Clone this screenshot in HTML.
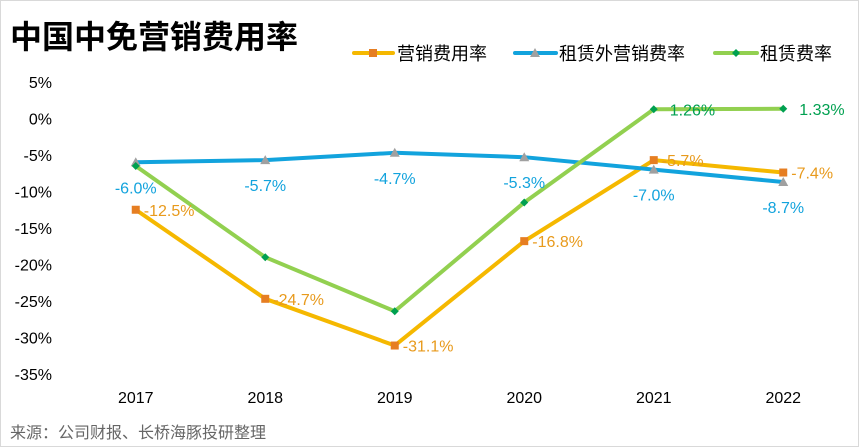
<!DOCTYPE html>
<html><head><meta charset="utf-8"><style>
body{margin:0;background:#fff}
svg{display:block;font-family:"Liberation Sans","Noto Sans CJK SC",sans-serif}
</style></head><body>
<svg id="c" width="859" height="447" viewBox="0 0 859 447">
<rect x="0.5" y="0.5" width="858" height="446" fill="#fff" stroke="#d9d9d9"/>
<text x="10" y="48" font-size="32" font-weight="bold" fill="#000">中国中免营销费用率</text>
<g>
<g><line x1="354" y1="53" x2="393" y2="53" stroke="#F5B800" stroke-width="4" stroke-linecap="round"/><rect x="369" y="49" width="8" height="8" fill="#E67E22"/><text x="397" y="60" font-size="18" fill="#000">营销费用率</text></g>
<g><line x1="515" y1="53" x2="556" y2="53" stroke="#12A3DD" stroke-width="4" stroke-linecap="round"/><polygon points="535,48 540,57 530,57" fill="#A0A0A0"/><text x="559" y="60" font-size="18" fill="#000">租赁外营销费率</text></g>
<g><line x1="715" y1="53" x2="757" y2="53" stroke="#92D050" stroke-width="4" stroke-linecap="round"/><polygon points="736,49 740,53 736,57 732,53" fill="#00A050"/><text x="760" y="60" font-size="18" fill="#000">租赁费率</text></g>
</g>
<g id="axes"></g>
<g id="series"></g>
<text x="10" y="438" font-size="16" fill="#666">来源：公司财报、长桥海豚投研整理</text>
</svg>
<script>
const categories=["2017","2018","2019","2020","2021","2022"];
const marketing=[-12.5,-24.7,-31.1,-16.8,-5.7,-7.4];
const exRental=[-6.0,-5.7,-4.7,-5.3,-7.0,-8.7];
const rental=[-6.5,-19.0,-26.4,-11.5,1.26,1.33];
const marketingLabels=["-12.5%","-24.7%","-31.1%","-16.8%","-5.7%","-7.4%"];
const exRentalLabels=["-6.0%","-5.7%","-4.7%","-5.3%","-7.0%","-8.7%"];
const rentalLabels=["","","","","1.26%","1.33%"];
const yTicks=[5,0,-5,-10,-15,-20,-25,-30,-35];
const NS="http://www.w3.org/2000/svg";
const x0=71,x1=848,yTop=82,yBot=374,vMax=5,vMin=-35;
const bw=(x1-x0)/categories.length;
function xs(i){return x0+bw*(i+0.5);}
function ys(v){return yTop+(vMax-v)/(vMax-vMin)*(yBot-yTop);}
function mk(tag,attrs,parent){const e=document.createElementNS(NS,tag);for(const k in attrs)e.setAttribute(k,attrs[k]);parent.appendChild(e);return e;}
const ax=document.getElementById('axes'),se=document.getElementById('series');
yTicks.forEach(t=>{const e=mk('text',{x:52,y:ys(t)+6,'font-size':16,'text-anchor':'end',fill:'#000'},ax);e.textContent=t+'%';

});
categories.forEach((c,i)=>{const e=mk('text',{x:xs(i),y:403,'font-size':16,'text-anchor':'middle',fill:'#000'},ax);e.textContent=c;

});
function line(data,color,name){const p=mk('polyline',{points:data.map((v,i)=>xs(i)+','+ys(v)).join(' '),fill:'none',stroke:color,'stroke-width':4,'stroke-linejoin':'round'},se);

}
line(marketing,'#F5B800','line-marketing');
line(exRental,'#12A3DD','line-ex-rental');
line(rental,'#92D050','line-rental');
marketing.forEach((v,i)=>{const r=mk('rect',{x:xs(i)-4,y:ys(v)-4,width:8,height:8,fill:'#E67E22'},se);


const t=mk('text',{x:xs(i)+8,y:ys(v)+6,'font-size':16,fill:'#E89A1C'},se);t.textContent=marketingLabels[i];

});
exRental.forEach((v,i)=>{const x=xs(i),y=ys(v);const p=mk('polygon',{points:`${x},${y-5} ${x+5},${y+4} ${x-5},${y+4}`,fill:'#A0A0A0'},se);


const t=mk('text',{x:x,y:y+31,'font-size':16,'text-anchor':'middle',fill:'#12A3DD'},se);t.textContent=exRentalLabels[i];

});
rental.forEach((v,i)=>{const x=xs(i),y=ys(v);const p=mk('polygon',{points:`${x},${y-4} ${x+4},${y} ${x},${y+4} ${x-4},${y}`,fill:'#00A050'},se);


if(rentalLabels[i]){const t=mk('text',{x:x+16,y:y+6,'font-size':16,fill:'#00A050'},se);t.textContent=rentalLabels[i];

}});
</script>
</body></html>
